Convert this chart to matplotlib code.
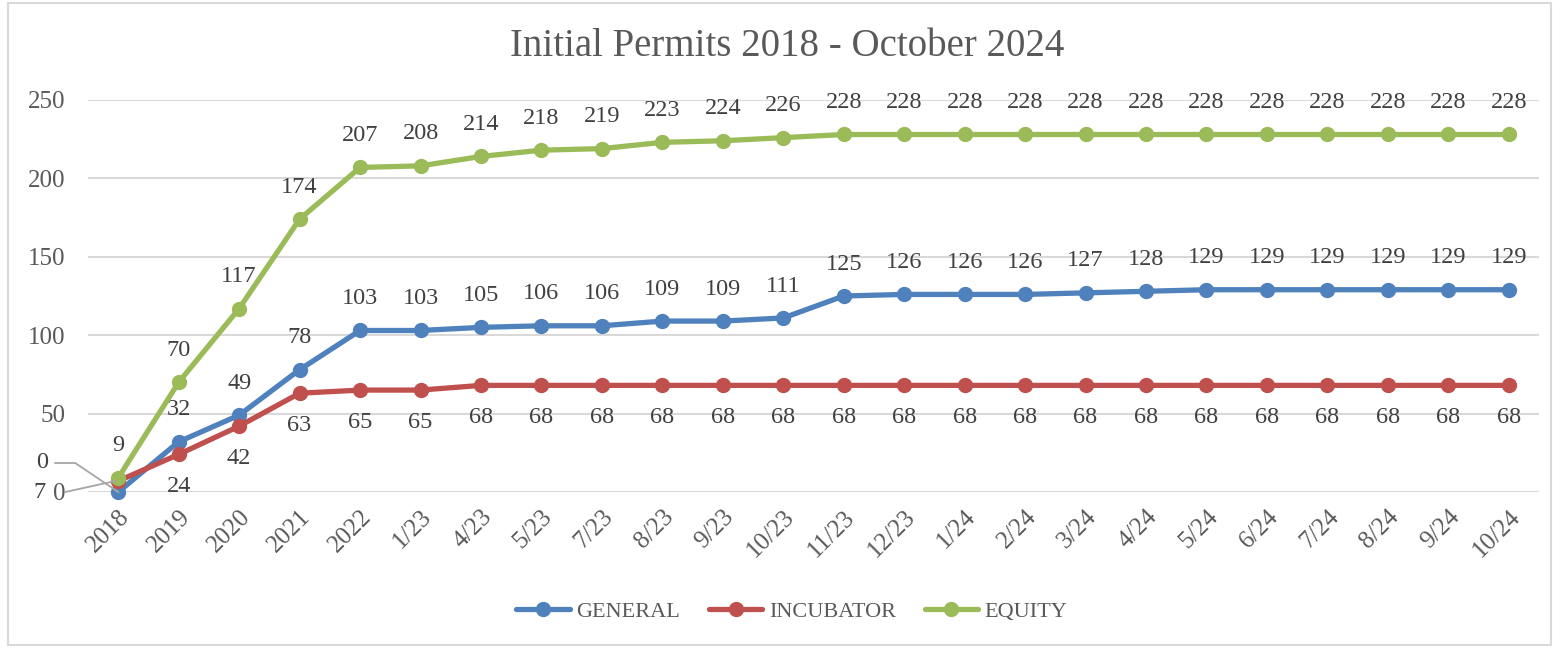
import matplotlib.pyplot as plt
from matplotlib.lines import Line2D
from matplotlib.patches import Rectangle

categories = ["2018", "2019", "2020", "2021", "2022", "1/23", "4/23", "5/23",
              "7/23", "8/23", "9/23", "10/23", "11/23", "12/23", "1/24", "2/24",
              "3/24", "4/24", "5/24", "6/24", "7/24", "8/24", "9/24", "10/24"]
general = [0, 32, 49, 78, 103, 103, 105, 106, 106, 109, 109, 111,
           125, 126, 126, 126, 127, 128, 129, 129, 129, 129, 129, 129]
incubator = [7, 24, 42, 63, 65, 65, 68, 68, 68, 68, 68, 68,
             68, 68, 68, 68, 68, 68, 68, 68, 68, 68, 68, 68]
equity = [9, 70, 117, 174, 207, 208, 214, 218, 219, 223, 224, 226,
          228, 228, 228, 228, 228, 228, 228, 228, 228, 228, 228, 228]

plt.rcParams["font.family"] = ["Liberation Serif", "DejaVu Serif"]
text_col = "#595959"
label_col = "#404040"
grid_col = "#D9D9D9"
leader_col = "#A6A6A6"

fig = plt.figure(figsize=(15.6, 6.48), dpi=100)
ax = fig.add_axes([88 / 1560, 1 - 492 / 648, (1539 - 88) / 1560, (492 - 100) / 648])

# outer chart border
fig.patches.append(Rectangle((8 / 1560, 3 / 648), 1543 / 1560, 642 / 648,
                             transform=fig.transFigure, fill=False,
                             edgecolor=grid_col, linewidth=1.5))

x = list(range(len(categories)))
series = [
    ("GENERAL", general, "#4F81BD", 1),
    ("INCUBATOR", incubator, "#C0504D", -1),
    ("EQUITY", equity, "#9BBB59", 1),
]
for name, vals, color, side in series:
    ax.plot(x, vals, color=color, lw=3.8, marker="o", markersize=10,
            label=name, clip_on=False, zorder=3, solid_capstyle="round")
    for i, v in enumerate(vals):
        if i == 0 and name in ("GENERAL", "INCUBATOR"):
            continue  # these two are moved out with leader lines below
        ax.annotate(str(v), (i, v), xytext=(0, 23 * side), textcoords="offset points",
                    ha="center", va="center", fontsize=17.5, color=label_col)

ax.set_xlim(-0.5, len(categories) - 0.5)
ax.set_ylim(0, 250)
ax.set_yticks(range(0, 251, 50))
ax.set_xticks(x)
ax.set_xticklabels(categories, rotation=45, ha="right", rotation_mode="anchor")
ax.tick_params(axis="both", length=0, labelsize=18, labelcolor=text_col)
ax.tick_params(axis="y", pad=16)
ax.tick_params(axis="x", pad=10)
ax.grid(axis="y", color=grid_col, lw=1.5)
ax.set_axisbelow(True)
for s in ax.spines.values():
    s.set_visible(False)

# 2018 labels for GENERAL and INCUBATOR sit left of the axis, with leader lines
gx, gy = ax.transData.transform((0, general[0]))
ix, iy = ax.transData.transform((0, incubator[0]))
fig.text(gx - 76, gy + 29, str(general[0]), transform=None,
         ha="center", va="center", fontsize=17.5, color=label_col)
fig.lines.append(Line2D([gx - 63, gx - 43, gx], [gy + 29, gy + 29, gy],
                        transform=None, color=leader_col, lw=1.3, zorder=5))
fig.text(ix - 79, iy - 11, str(incubator[0]), transform=None,
         ha="center", va="center", fontsize=17.5, color=label_col)
fig.lines.append(Line2D([ix - 53, ix - 3], [iy - 11, iy],
                        transform=None, color=leader_col, lw=1.3, zorder=5))

fig.text(787 / 1560, 1 - 47 / 648, "Initial Permits 2018 - October 2024",
         ha="center", va="center", fontsize=28, color=text_col)

fig.legend(loc="center", bbox_to_anchor=(792 / 1560, 1 - 612 / 648), ncol=3,
           frameon=False, fontsize=16, labelcolor=text_col, handlelength=2.4,
           columnspacing=1.3, handletextpad=0.3)

fig.savefig("out.png", dpi=100)
